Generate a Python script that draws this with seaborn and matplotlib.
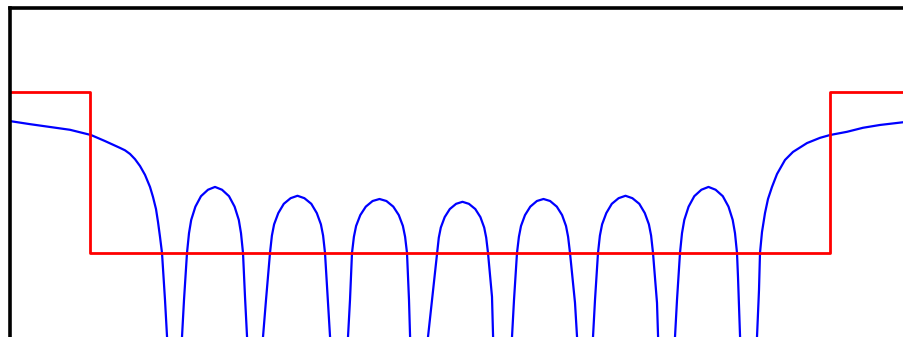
import matplotlib
matplotlib.use("Agg")
import matplotlib.pyplot as plt
import seaborn as sns
import pandas as pd

# Filter response (frequency index, magnitude in dB); -100 marks nulls below the view
freq = [0, 21, 41, 61, 82, 96, 111, 116, 121, 126, 131, 136, 141, 144, 147, 149, 151, 153, 156, 158, 166,
        # lobe 1
        173, 175, 178, 180, 182.2, 186.4, 192, 199, 206, 213, 220, 225.6, 229.8, 232, 234, 236, 238, 246,
        # lobe 2
        254, 257, 261, 262.9, 265.1, 269.3, 274.8, 281.6, 288.5, 295.4, 302.3, 307.8, 311.9, 314.1, 316, 318, 321, 330,
        # lobe 3
        339, 341, 343, 344.9, 347.1, 351.3, 356.8, 363.6, 370.5, 377.4, 384.3, 389.8, 393.9, 396.1, 398, 400, 401, 410,
        # lobe 4
        419, 423, 428, 429.8, 431.8, 435.7, 440.8, 447.1, 453.5, 459.9, 466.3, 471.4, 475.2, 477.2, 479, 483, 484, 493,
        # lobe 5
        503, 505, 508, 509.9, 512, 516, 521.3, 527.9, 534.5, 541.1, 547.8, 553.1, 557, 559.1, 561, 566, 568, 576,
        # lobe 6
        584, 586, 589, 590.9, 593.1, 597.3, 602.8, 609.6, 616.5, 623.4, 630.3, 635.8, 639.9, 642.1, 644, 648, 649, 658,
        # lobe 7
        666, 668, 671, 673, 675.3, 679.6, 685.3, 692.4, 699.5, 706.6, 713.8, 719.5, 723.7, 726, 728, 729, 731, 739,
        # right shoulder
        748, 750, 751, 753, 756, 759, 763, 768, 776, 784, 798, 811, 821, 838, 854, 871, 895]
response_db = [-27.2, -28.0, -28.7, -29.4, -30.7, -32.2, -33.9, -34.5, -35.4, -36.7, -38.4, -40.6, -43.6, -46.1, -49.1, -52.3, -56.0, -60.0, -71.7, -80.9, -100,
               -80.9, -71.7, -60.0, -55.1, -51.8, -48.5, -45.9, -44.3, -43.6, -44.3, -45.9, -48.5, -51.8, -55.1, -60.0, -70.9, -80.9, -100,
               -80.9, -71.7, -60.0, -55.7, -52.9, -50.1, -47.8, -46.4, -45.8, -46.4, -47.8, -50.1, -52.9, -55.7, -60.0, -68.4, -80.9, -100,
               -80.9, -71.7, -60.0, -56.0, -53.3, -50.6, -48.5, -47.1, -46.6, -47.1, -48.5, -50.6, -53.3, -56.0, -60.0, -71.7, -80.9, -100,
               -80.9, -71.7, -60.0, -56.2, -53.7, -51.1, -49.1, -47.8, -47.3, -47.8, -49.1, -51.1, -53.7, -56.2, -60.0, -70.9, -80.9, -100,
               -80.9, -71.7, -60.0, -56.0, -53.3, -50.6, -48.5, -47.1, -46.6, -47.1, -48.5, -50.6, -53.3, -56.0, -60.0, -72.4, -80.9, -100,
               -80.9, -71.7, -60.0, -55.7, -52.9, -50.1, -47.8, -46.4, -45.8, -46.4, -47.8, -50.1, -52.9, -55.7, -60.0, -72.4, -80.9, -100,
               -80.9, -71.7, -60.0, -55.1, -51.8, -48.5, -45.9, -44.3, -43.6, -44.3, -45.9, -48.5, -51.8, -55.1, -60.0, -66.0, -80.9, -100,
               -80.9, -69.2, -60.0, -54.8, -50.1, -46.6, -43.6, -40.4, -36.9, -34.9, -32.7, -31.4, -30.7, -29.9, -28.9, -28.2, -27.5]

# Specification mask
mask_freq = [0, 81.5, 81.5, 821, 821, 900]
mask_db = [-20, -20, -60, -60, -20, -20]

resp = pd.DataFrame({"freq": freq, "db": response_db})
mask = pd.DataFrame({"freq": mask_freq, "db": mask_db})

sns.set_theme(style="white")
fig = plt.figure(figsize=(9.04, 3.37), dpi=100)
ax = fig.add_axes([10 / 904, 0, 1 - 10 / 904, 1 - 8 / 337])

sns.lineplot(data=resp, x="freq", y="db", sort=False, estimator=None,
             color="#0000ff", linewidth=1.6, ax=ax)
sns.lineplot(data=mask, x="freq", y="db", sort=False, estimator=None,
             color="#ff0000", linewidth=2.0, ax=ax)

ax.set_xlim(1, 895)
ax.set_ylim(-80.9, 0.87)
ax.set_xticks([])
ax.set_yticks([])
ax.set_xlabel("")
ax.set_ylabel("")
for side in ["right", "bottom"]:
    ax.spines[side].set_visible(False)
for side in ["left", "top"]:
    ax.spines[side].set_visible(True)
    ax.spines[side].set_color("black")
    ax.spines[side].set_linewidth(2.6)
    ax.spines[side].set_capstyle("projecting")

fig.savefig("out.png", dpi=100)
